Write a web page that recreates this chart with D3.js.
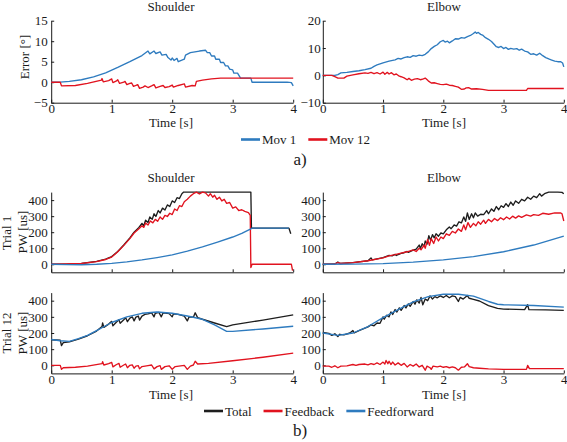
<!DOCTYPE html>
<html><head><meta charset="utf-8">
<script src="https://cdn.jsdelivr.net/npm/d3@7"></script>
<style>
html,body{margin:0;padding:0;background:#fff;}
svg, svg text{font-family:"Liberation Serif","Times New Roman",Times,"DejaVu Serif",serif;}
</style></head><body>
<svg id="c" width="567" height="442"></svg>
<script>
// ---------- data ----------
const xTicks = [0,1,2,3,4];
const shoulderErrTicks = [-5,0,5,10,15];
const elbowErrTicks = [-10,0,10,20];
const pwTicks = [0,100,200,300,400];
const legendA = ["Mov 1","Mov 12"];
const legendB = ["Total","Feedback","Feedforward"];

// a) Error [deg] vs time [s]
const shoulderMov1 = [[0,0],[0.15,0],[0.3,0.2],[0.5,0.6],[0.7,1.3],[0.9,2.3],[1.1,3.6],[1.3,5.0],[1.5,6.5],[1.6,7.6],[1.63,6.9],[1.7,7.6],[1.73,7.0],[1.8,7.4],[1.83,6.6],[1.9,6.8],[1.93,6.0],[1.98,5.4],[2.0,5.9],[2.03,5.3],[2.08,5.8],[2.1,5.0],[2.2,5.6],[2.22,6.6],[2.3,7.2],[2.45,7.6],[2.55,7.8],[2.58,7.2],[2.62,7.2],[2.65,6.4],[2.7,6.4],[2.72,5.6],[2.78,5.6],[2.8,4.8],[2.85,4.8],[2.88,4.0],[2.92,4.0],[2.95,3.2],[3.0,3.0],[3.02,2.2],[3.08,2.2],[3.13,1.0],[3.3,1.0],[3.32,0],[3.9,0],[3.97,-0.1],[4.0,-0.9]];
const shoulderMov12 = [[0,0],[0.15,0],[0.17,-0.9],[0.4,-0.8],[0.6,-0.3],[0.83,0.5],[0.84,0.9],[0.86,0.1],[0.95,0.4],[1.0,0.8],[1.02,-0.1],[1.08,0.3],[1.1,0.6],[1.13,-0.3],[1.2,0],[1.22,0.2],[1.25,-0.6],[1.3,-0.3],[1.33,-0.2],[1.36,-1.0],[1.4,-0.8],[1.43,-0.6],[1.46,-1.5],[1.52,-1.2],[1.55,-0.9],[1.6,-1.3],[1.66,-0.9],[1.7,-0.6],[1.73,-1.4],[1.8,-1.0],[1.85,-0.8],[1.88,-1.3],[1.95,-1.1],[2.0,-0.7],[2.02,-1.2],[2.1,-0.8],[2.2,-0.4],[2.22,-1.2],[2.33,-0.8],[2.38,-0.9],[2.4,0.2],[2.5,0.5],[2.65,0.8],[2.8,1.0],[4,1.0]];
const elbowMov1 = [[0,0],[0.2,0],[0.25,0.3],[0.3,0.9],[0.4,1.1],[0.5,1.4],[0.6,1.7],[0.7,2.1],[0.8,2.6],[0.85,3.3],[0.9,3.8],[1.0,4.6],[1.1,5.2],[1.2,5.7],[1.25,6.2],[1.3,6.0],[1.35,6.5],[1.4,6.8],[1.45,6.6],[1.5,7.2],[1.55,7.0],[1.6,7.4],[1.65,7.2],[1.7,7.7],[1.75,8.6],[1.8,9.8],[1.85,10.6],[1.9,11.2],[1.95,12.3],[2.0,12.8],[2.03,12.2],[2.07,12.5],[2.1,11.9],[2.15,12.6],[2.2,13.4],[2.25,13.3],[2.3,13.8],[2.35,13.6],[2.4,14.2],[2.45,14.6],[2.5,15.3],[2.53,15.9],[2.55,15.4],[2.58,15.7],[2.62,15.0],[2.66,14.6],[2.7,13.8],[2.75,13.2],[2.8,12.4],[2.85,11.2],[2.88,10.5],[2.92,10.2],[2.96,10.6],[3.0,9.8],[3.04,10.2],[3.08,9.5],[3.12,9.9],[3.17,9.6],[3.22,9.8],[3.26,9.2],[3.3,9.6],[3.35,8.9],[3.4,8.6],[3.45,7.7],[3.5,7.9],[3.55,7.4],[3.6,8.1],[3.65,7.2],[3.7,6.5],[3.75,6.0],[3.8,5.6],[3.85,5.2],[3.9,5.0],[3.95,5.0],[3.98,4.5],[4.0,3.1]];
const elbowMov12 = [[0,0],[0.15,0],[0.2,-0.5],[0.25,-1.0],[0.35,-1.0],[0.4,-0.3],[0.5,0.2],[0.6,0.6],[0.7,0.9],[0.75,0.7],[0.8,1.1],[0.85,0.6],[0.9,1.0],[0.95,0.5],[1.0,1.2],[1.03,0.4],[1.07,1.1],[1.1,0.5],[1.14,1.0],[1.18,0.2],[1.22,0.5],[1.27,-0.3],[1.3,-0.5],[1.35,-0.9],[1.4,-1.6],[1.43,-1.1],[1.47,-1.8],[1.52,-1.4],[1.57,-1.2],[1.62,-1.6],[1.67,-1.3],[1.7,-1.0],[1.75,-2.0],[1.8,-2.8],[1.85,-2.7],[1.9,-3.0],[1.95,-3.3],[2.0,-3.4],[2.05,-3.2],[2.1,-3.6],[2.15,-3.7],[2.2,-4.0],[2.25,-4.3],[2.3,-5.1],[2.35,-5.0],[2.38,-4.6],[2.42,-4.5],[2.47,-5.0],[2.55,-4.9],[2.65,-5.1],[2.75,-5.5],[2.85,-5.5],[3.0,-5.5],[3.38,-5.5],[3.4,-4.8],[4.0,-4.8]];

// b) PW [us] vs time [s]
const shT1Total = [[0,0],[0.25,1],[0.5,5],[0.75,18],[0.9,32],[1.0,48],[1.1,80],[1.2,120],[1.3,165],[1.37,200],[1.45,230],[1.5,255],[1.53,240],[1.56,275],[1.6,260],[1.63,295],[1.67,280],[1.7,315],[1.73,298],[1.77,335],[1.8,320],[1.84,350],[1.88,338],[1.92,370],[1.96,360],[2.0,395],[2.04,385],[2.08,415],[2.12,410],[2.16,440],[2.19,450],[3.3,450],[3.31,225],[3.93,225],[3.96,190]];
const shT1Feedback = [[0,0],[0.25,2],[0.5,5],[0.75,17],[0.9,30],[1.0,45],[1.1,78],[1.2,118],[1.3,160],[1.37,195],[1.45,222],[1.5,240],[1.53,230],[1.56,258],[1.6,245],[1.64,270],[1.68,258],[1.72,280],[1.76,268],[1.8,295],[1.84,280],[1.88,305],[1.92,298],[1.96,318],[2.0,310],[2.04,345],[2.08,335],[2.12,365],[2.16,360],[2.2,390],[2.25,405],[2.3,425],[2.35,440],[2.4,450],[2.45,438],[2.5,450],[2.55,445],[2.6,425],[2.63,440],[2.67,418],[2.7,430],[2.74,405],[2.78,418],[2.82,395],[2.86,405],[2.9,380],[2.95,385],[3.0,350],[3.05,358],[3.1,335],[3.15,340],[3.2,330],[3.26,322],[3.29,305],[3.3,-20],[3.32,0],[3.97,0],[3.99,-40]];
const shT1Feedforward = [[0,0],[0.25,-2],[0.5,-3],[0.75,0],[1.0,6],[1.25,15],[1.5,27],[1.75,42],[2.0,59],[2.25,82],[2.5,108],[2.75,138],[3.0,170],[3.15,193],[3.3,221],[3.32,225],[3.93,225]];
const shT12Total = [[0,158],[0.15,155],[0.17,122],[0.2,140],[0.3,145],[0.45,162],[0.6,183],[0.75,212],[0.84,240],[0.85,262],[0.87,235],[0.95,255],[1.0,272],[1.02,245],[1.08,268],[1.12,282],[1.14,260],[1.2,282],[1.23,295],[1.26,270],[1.3,292],[1.34,300],[1.37,275],[1.4,298],[1.44,305],[1.46,280],[1.5,305],[1.55,315],[1.6,318],[1.66,325],[1.7,300],[1.72,322],[1.78,328],[1.82,300],[1.85,325],[1.95,320],[2.0,300],[2.02,318],[2.1,315],[2.2,305],[2.25,275],[2.28,300],[2.35,298],[2.38,325],[2.42,295],[2.5,285],[2.7,262],[2.9,240],[3.0,250],[3.5,280],[4.0,312]];
const shT12Feedback = [[0,0],[0.15,0],[0.17,-25],[0.2,-15],[0.4,-12],[0.6,-5],[0.84,10],[0.85,22],[0.87,2],[0.95,10],[1.0,18],[1.02,-10],[1.08,5],[1.12,12],[1.14,-12],[1.2,2],[1.23,8],[1.26,-15],[1.3,0],[1.34,3],[1.37,-18],[1.4,-5],[1.44,-2],[1.46,-22],[1.5,-8],[1.6,-2],[1.66,2],[1.7,-22],[1.75,-8],[1.8,-2],[1.82,-25],[1.88,-8],[1.95,-3],[2.0,-25],[2.05,-8],[2.2,0],[2.25,-25],[2.3,-5],[2.35,2],[2.38,25],[2.42,8],[2.6,12],[3.0,28],[3.5,50],[4.0,75]];
const shT12Feedforward = [[0,160],[0.15,152],[0.3,148],[0.45,165],[0.6,185],[0.75,215],[0.9,245],[1.0,265],[1.25,300],[1.5,322],[1.75,330],[2.0,322],[2.25,305],[2.5,285],[2.7,250],[2.9,210],[3.0,210],[3.5,225],[4.0,242]];
const elT1Total = [[0,0],[0.2,2],[0.25,14],[0.28,5],[0.5,10],[0.75,22],[0.8,40],[0.82,28],[1.0,42],[1.1,55],[1.15,52],[1.2,62],[1.22,55],[1.3,68],[1.35,72],[1.4,80],[1.42,74],[1.5,88],[1.55,95],[1.6,120],[1.62,98],[1.65,128],[1.68,110],[1.7,145],[1.73,125],[1.76,178],[1.79,150],[1.82,185],[1.85,165],[1.88,190],[1.92,175],[1.96,195],[2.0,190],[2.05,215],[2.1,232],[2.13,222],[2.18,245],[2.22,238],[2.26,265],[2.3,258],[2.34,295],[2.37,268],[2.4,320],[2.43,280],[2.47,315],[2.5,290],[2.53,320],[2.57,300],[2.62,312],[2.67,310],[2.72,335],[2.75,315],[2.8,345],[2.84,330],[2.88,360],[2.92,340],[2.96,365],[3.0,355],[3.04,378],[3.08,360],[3.12,388],[3.16,368],[3.2,395],[3.25,380],[3.3,405],[3.35,395],[3.4,418],[3.45,405],[3.5,425],[3.55,415],[3.6,440],[3.63,425],[3.68,440],[3.75,450],[3.9,450],[3.97,448],[4.0,440]];
const elT1Feedback = [[0,0],[0.2,2],[0.25,10],[0.3,5],[0.5,10],[0.75,22],[1.0,40],[1.1,52],[1.2,60],[1.3,70],[1.4,78],[1.5,90],[1.55,80],[1.6,100],[1.63,90],[1.68,120],[1.7,100],[1.74,155],[1.77,118],[1.8,160],[1.84,130],[1.88,170],[1.92,145],[1.96,170],[2.0,160],[2.05,190],[2.1,180],[2.15,205],[2.2,195],[2.25,220],[2.3,205],[2.34,245],[2.37,215],[2.41,260],[2.45,230],[2.5,255],[2.54,240],[2.58,265],[2.62,250],[2.67,275],[2.7,255],[2.75,280],[2.8,265],[2.85,285],[2.9,272],[2.95,290],[3.0,278],[3.05,295],[3.1,282],[3.15,300],[3.2,288],[3.25,302],[3.3,292],[3.38,308],[3.45,300],[3.5,310],[3.58,305],[3.65,318],[3.75,312],[3.85,320],[3.95,320],[3.97,315],[4.0,270]];
const elT1Feedforward = [[0,0],[0.5,1],[1.0,4],[1.5,13],[2.0,27],[2.5,48],[3.0,78],[3.5,120],[4.0,176]];
const elT12Total = [[0,203],[0.1,198],[0.15,185],[0.2,195],[0.25,178],[0.28,192],[0.35,188],[0.45,200],[0.5,215],[0.52,200],[0.6,215],[0.75,238],[0.8,250],[0.85,245],[0.9,262],[0.95,260],[1.0,300],[1.02,285],[1.06,310],[1.1,300],[1.13,330],[1.16,315],[1.2,345],[1.23,330],[1.27,355],[1.3,340],[1.35,370],[1.38,355],[1.42,380],[1.45,365],[1.5,395],[1.53,378],[1.56,405],[1.6,385],[1.63,420],[1.66,375],[1.7,410],[1.74,400],[1.78,430],[1.82,410],[1.86,425],[1.9,418],[1.95,430],[2.0,420],[2.05,432],[2.1,418],[2.15,430],[2.2,425],[2.25,395],[2.28,420],[2.33,410],[2.4,432],[2.43,415],[2.5,408],[2.6,398],[2.75,370],[2.9,352],[3.0,348],[3.35,345],[3.4,375],[3.42,345],[3.7,343],[4.0,340]];
const elT12Feedback = [[0,-5],[0.1,-5],[0.15,-12],[0.2,-3],[0.25,-15],[0.3,-5],[0.4,-3],[0.5,5],[0.55,0],[0.6,5],[0.7,8],[0.75,3],[0.8,10],[0.85,5],[0.9,15],[0.95,5],[1.0,20],[1.03,8],[1.05,30],[1.08,10],[1.1,25],[1.13,5],[1.16,20],[1.2,2],[1.25,15],[1.3,0],[1.35,12],[1.4,-10],[1.45,5],[1.5,-5],[1.55,8],[1.6,-10],[1.65,0],[1.7,-30],[1.73,-5],[1.78,-15],[1.8,-25],[1.83,-5],[1.9,-10],[1.95,-5],[2.0,-12],[2.05,-8],[2.1,-15],[2.15,-10],[2.2,-15],[2.25,-30],[2.3,-12],[2.35,-10],[2.4,10],[2.43,-8],[2.5,-15],[2.6,-18],[2.75,-22],[3.0,-25],[3.38,-25],[3.4,0],[3.43,-20],[4.0,-20]];
const elT12Feedforward = [[0,200],[0.25,185],[0.5,200],[0.75,240],[1.0,295],[1.25,345],[1.5,392],[1.75,425],[2.0,440],[2.25,440],[2.5,428],[2.75,395],[2.9,378],[3.0,375],[3.5,370],[4.0,360]];

// ---------- styles ----------
const BLUE = "#2e7bbf", RED = "#e1131f", BLACK = "#1e1e1e", INK = "#1a1a1a";
const FS = 13;
const FONT = '"Liberation Serif","Times New Roman",Times,"DejaVu Serif",serif';

const svg = d3.select("#c").attr("font-family", FONT);

function panel(o){
  const x = d3.scaleLinear().domain([0,4]).range([o.x0, o.x1]);
  const y = d3.scaleLinear().domain(o.yDom).range(o.yRange);
  const g = svg.append("g");
  const ax = d3.axisBottom(x).tickValues(xTicks).tickSizeInner(-3).tickSizeOuter(0).tickPadding(1.2)
    .tickFormat(o.xLabels ? d3.format("d") : () => "");
  const gx = g.append("g").attr("transform", `translate(0,${o.yRange[0]})`).call(ax);
  const ay = d3.axisLeft(y).tickValues(o.yTicks).tickSizeInner(-3).tickSizeOuter(0).tickPadding(o.pad || 3.5)
    .tickFormat(d3.format("d"));
  const gy = g.append("g").attr("transform", `translate(${o.x0},0)`).call(ay);
  [gx, gy].forEach(a => {
    a.attr("font-family", FONT).attr("font-size", FS);
    a.selectAll("path,line").attr("stroke", INK).attr("stroke-width", 1);
    a.selectAll("text").attr("fill", INK).attr("font-size", FS).attr("font-family", FONT);
  });
  const line = d3.line().x(d => x(d[0])).y(d => y(d[1]));
  o.series.forEach(s => {
    g.append("path").datum(s.data).attr("d", line).attr("fill", "none")
      .attr("stroke", s.color).attr("stroke-width", 1.35).attr("stroke-linejoin", "round");
  });
  return {x, y};
}

function text(t, x, y, opts={}){
  const el = svg.append("text").attr("x", x).attr("y", y).text(t)
    .attr("font-size", opts.fs || FS).attr("fill", INK).attr("font-family", FONT)
    .attr("text-anchor", opts.anchor || "middle");
  if (opts.rot) el.attr("transform", `rotate(-90,${x},${y})`);
  return el;
}

const L0 = 51.2, L1 = 293.2, R0 = 322.8, R1 = 563.8;

// a)
panel({x0:L0, x1:L1, yDom:[-5,15], yRange:[102.7,20.7], yTicks:shoulderErrTicks, xLabels:true,
  series:[{data:shoulderMov1,color:BLUE},{data:shoulderMov12,color:RED}]});
panel({x0:R0, x1:R1, yDom:[-10,20], yRange:[102.7,20.7], yTicks:elbowErrTicks, xLabels:true, pad:2,
  series:[{data:elbowMov1,color:BLUE},{data:elbowMov12,color:RED}]});

// b) trial 1
panel({x0:L0, x1:L1, yDom:[-50,450], yRange:[272.3,192.1], yTicks:pwTicks, xLabels:false,
  series:[{data:shT1Total,color:BLACK},{data:shT1Feedback,color:RED},{data:shT1Feedforward,color:BLUE}]});
panel({x0:R0, x1:R1, yDom:[-50,450], yRange:[272.3,192.1], yTicks:pwTicks, xLabels:false, pad:2,
  series:[{data:elT1Total,color:BLACK},{data:elT1Feedback,color:RED},{data:elT1Feedforward,color:BLUE}]});
// b) trial 12
panel({x0:L0, x1:L1, yDom:[-50,450], yRange:[373.4,292.6], yTicks:pwTicks, xLabels:true,
  series:[{data:shT12Total,color:BLACK},{data:shT12Feedback,color:RED},{data:shT12Feedforward,color:BLUE}]});
panel({x0:R0, x1:R1, yDom:[-50,450], yRange:[373.4,292.6], yTicks:pwTicks, xLabels:true, pad:2,
  series:[{data:elT12Total,color:BLACK},{data:elT12Feedback,color:RED},{data:elT12Feedforward,color:BLUE}]});

// titles & labels
text("Shoulder", 171, 11);
text("Elbow", 444, 11);
text("Shoulder", 171, 182);
text("Elbow", 444, 182);
text("Time [s]", 171, 127);
text("Time [s]", 444, 127);
text("Time [s]", 171, 399);
text("Time [s]", 444, 399);
text("Error [°]", 29, 57, {rot:true});
text("Trial 1", 11, 233, {rot:true});
text("PW [us]", 27, 232, {rot:true});
text("Trial 12", 11, 333, {rot:true});
text("PW [us]", 27, 333, {rot:true});

// legends
function legend(items, colors, x, y){
  let cx = x;
  items.forEach((name, i) => {
    svg.append("line").attr("x1", cx).attr("x2", cx + 19).attr("y1", y).attr("y2", y)
      .attr("stroke", colors[i]).attr("stroke-width", 2.6);
    const t = text(name, cx + 21, y + 4.5, {anchor:"start"});
    cx += 21 + t.node().getComputedTextLength() + 12;
  });
}
legend(legendA, [BLUE, RED], 241, 139.5);
legend(legendB, [BLACK, RED, BLUE], 204, 411);

text("a)", 300, 165, {fs:17});
text("b)", 300, 436, {fs:17});
</script>
</body></html>
